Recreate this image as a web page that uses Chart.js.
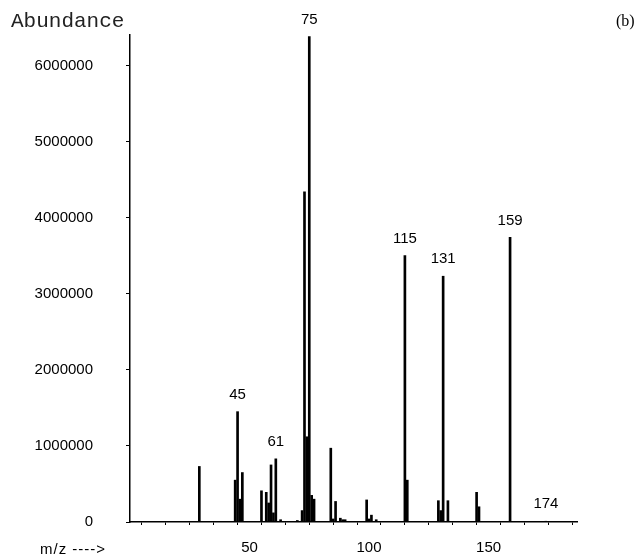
<!DOCTYPE html>
<html lang="en">

<head>
    <meta charset="UTF-8" />
    <title>Mass spectrum (b)</title>
    <script src="https://cdn.jsdelivr.net/npm/chart.js"></script>
    <style>
        body {
            margin: 0;
            background: #fff;
        }

        #wrap {
            width: 638px;
            height: 558px;
            position: relative;
        }
    </style>
</head>

<body>

    <div id="wrap"><canvas id="espectro"></canvas></div>

    <script>
        // m/z of each peak and its abundance
        const masas = [29, 44, 45, 46, 47, 55, 57, 58, 59, 60, 61, 63, 70, 72, 73, 74, 75, 76, 77,
            84, 85, 86, 88, 89, 90, 99, 100, 101, 103, 115, 116, 129, 130, 131, 133, 145, 146, 159, 174];
        const abundancias = [730000, 550000, 1450000, 300000, 650000, 410000, 390000, 250000, 750000, 120000, 830000, 30000, 20000, 150000, 4340000, 1120000, 6380000, 350000, 300000,
            970000, 40000, 270000, 50000, 30000, 30000, 290000, 40000, 90000, 30000, 3500000, 550000, 280000, 150000, 3230000, 280000, 390000, 200000, 3740000, 10000];

        // peaks that carry a number above them
        const picosMarcados = [45, 61, 75, 115, 131, 159, 174];

        // tick labels on each axis
        const etiquetasX = [50, 100, 150];
        const etiquetasY = [0, 1000000, 2000000, 3000000, 4000000, 5000000, 6000000];

        const fuente = '"Liberation Sans", Arial, sans-serif';

        const puntos = masas.map((m, i) => ({ x: m, y: abundancias[i] }));

        const textos = {
            id: 'textos',
            afterDatasetsDraw(chart) {
                const ctx = chart.ctx;
                const sx = chart.scales.x, sy = chart.scales.y;
                ctx.save();
                ctx.fillStyle = '#000';
                ctx.font = '15px ' + fuente;
                ctx.textAlign = 'center';
                ctx.textBaseline = 'middle';
                picosMarcados.forEach(m => {
                    const i = masas.indexOf(m);
                    ctx.fillText(String(m), sx.getPixelForValue(m), sy.getPixelForValue(abundancias[i]) - 17);
                });

                ctx.textAlign = 'left';
                ctx.letterSpacing = '1px';
                ctx.fillText('m/z ---->', 40, 550);
                ctx.letterSpacing = '0px';

                ctx.fillStyle = '#222';
                ctx.font = '21px "Liberation Mono", "Courier New", monospace';
                ctx.fillText('Abundance', 11, 21);

                ctx.fillStyle = '#000';
                ctx.font = '16px "Liberation Serif", "Times New Roman", serif';
                ctx.fillText('(b)', 616, 22);
                ctx.restore();
            }
        };

        const grafico = new Chart(document.getElementById('espectro'), {
            type: 'bar',
            data: {
                datasets: [{
                    data: puntos,
                    backgroundColor: '#000',
                    barThickness: 2
                }]
            },
            options: {
                responsive: true,
                maintainAspectRatio: false,
                animation: false,
                layout: { padding: { top: 35, right: 61, left: 0, bottom: 0 } },
                plugins: {
                    legend: { display: false },
                    tooltip: { enabled: false }
                },
                scales: {
                    x: {
                        type: 'linear',
                        min: 0,
                        max: 187,
                        offset: false,
                        border: { display: true, color: '#000', width: 1.5 },
                        grid: { drawOnChartArea: false, drawTicks: true, tickLength: 3, color: '#000' },
                        ticks: {
                            stepSize: 10,
                            includeBounds: false,
                            autoSkip: false,
                            maxRotation: 0,
                            padding: 14,
                            color: '#000',
                            font: { family: fuente, size: 15 },
                            callback: v => etiquetasX.includes(v) ? String(v) : ''
                        },
                        afterFit: s => { s.height = 36; }
                    },
                    y: {
                        min: 0,
                        max: 6400000,
                        border: { display: true, color: '#000', width: 1.5 },
                        grid: { drawOnChartArea: false, drawTicks: true, tickLength: 4, color: '#000' },
                        ticks: {
                            padding: 33,
                            autoSkip: false,
                            color: '#000',
                            font: { family: fuente, size: 15 },
                            callback: v => String(v)
                        },
                        afterBuildTicks: s => { s.ticks = etiquetasY.map(v => ({ value: v })); },
                        afterFit: s => {
                            s.width = 130;
                            s.paddingTop = 0;
                            s.paddingBottom = 0;
                        }
                    }
                }
            },
            plugins: [textos]
        });
    </script>

</body>

</html>
